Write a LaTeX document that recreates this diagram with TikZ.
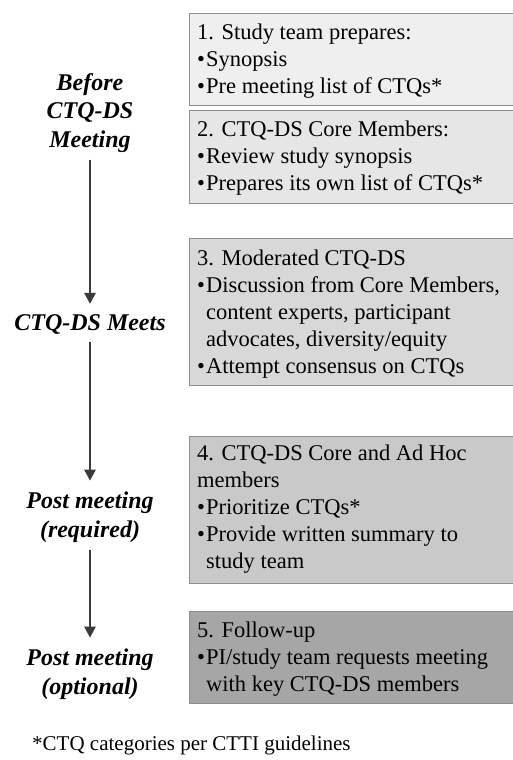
\documentclass[tikz,border=0pt]{standalone}
\usepackage{fontspec}
\setmainfont{Liberation Serif}
\usetikzlibrary{arrows.meta}
\definecolor{bordc}{HTML}{8E8E8E}
\definecolor{fa}{HTML}{EFEFEF}
\definecolor{fb}{HTML}{E6E6E6}
\definecolor{fc}{HTML}{D8D8D8}
\definecolor{fd}{HTML}{C9C9C9}
\definecolor{fe}{HTML}{A6A6A6}
\definecolor{arrc}{HTML}{3A3A3A}
\newcommand{\bl}{\makebox[9pt][l]{\textbullet}}
\newcommand{\ind}{\hspace*{9pt}}
\tikzset{
  boxr/.style={draw=bordc, line width=1.4pt, rectangle, inner sep=0pt, minimum width=340pt, anchor=north west},
  boxt/.style={anchor=north west, inner sep=0pt, align=left, font=\fontsize{22.5}{27}\selectfont, text=black},
  lab/.style={align=center, inner sep=0pt, font=\fontsize{24}{28.5}\selectfont\bfseries\itshape},
  flow/.style={draw=arrc, line width=2.6pt, -{Triangle[width=11pt,length=11pt]}},
}
\begin{document}
\begin{tikzpicture}[x=1pt,y=-1pt]
\useasboundingbox[fill=white] (0,0) rectangle (512,760);
% boxes
\node[boxr, fill=fa, minimum height=92pt] (b1) at (189,13) {};
\node[boxr, fill=fb, minimum height=93pt] (b2) at (189,110) {};
\node[boxr, fill=fc, minimum height=147pt] (b3) at (189,238) {};
\node[boxr, fill=fd, minimum height=147pt] (b4) at (189,436) {};
\node[boxr, fill=fe, minimum height=92pt] (b5) at (189,611) {};
% box texts
\node[boxt] (t1) at ([xshift=8pt,yshift=-7.6pt]b1.north west) {\strut 1. Study team prepares:\\ \bl Synopsis\\ \bl Pre meeting list of CTQs*};
\node[boxt] (t2) at ([xshift=8pt,yshift=-7.6pt]b2.north west) {\strut 2. CTQ-DS Core Members:\\ \bl Review study synopsis\\ \bl Prepares its own list of CTQs*};
\node[boxt] (t3) at ([xshift=8pt,yshift=-8.6pt]b3.north west) {\strut 3. Moderated CTQ-DS\\ \bl Discussion from Core Members,\\ \ind content experts, participant\\ \ind advocates, diversity/equity\\ \bl Attempt consensus on CTQs};
\node[boxt] (t4) at ([xshift=8pt,yshift=-5.6pt]b4.north west) {\strut 4. CTQ-DS Core and Ad Hoc\\ members\\ \bl Prioritize CTQs*\\ \bl Provide written summary to\\ \ind study team};
\node[boxt] (t5) at ([xshift=8pt,yshift=-7.6pt]b5.north west) {\strut 5. Follow-up\\ \bl PI/study team requests meeting\\ \ind with key CTQ-DS members};
% left labels
\node[lab] (l1) at (90,113) {Before\\CTQ-DS\\Meeting};
\node[lab] (l2) at (90,324) {CTQ-DS Meets};
\node[lab] (l3) at (90,517) {Post meeting\\(required)};
\node[lab] (l4) at (90,674) {Post meeting\\(optional)};
% arrows
\draw[flow, shorten <=7pt, shorten >=10pt] (l1.south) -- (l2.north);
\draw[flow, shorten <=8pt, shorten >=11pt] (l2.south) -- (l3.north);
\draw[flow, shorten <=8pt, shorten >=11pt] (l3.south) -- (l4.north);
% footnote
\node[anchor=base west, inner sep=0pt, font=\fontsize{21}{25}\selectfont] (fn) at (32,750) {*CTQ categories per CTTI guidelines};
\end{tikzpicture}
\end{document}
